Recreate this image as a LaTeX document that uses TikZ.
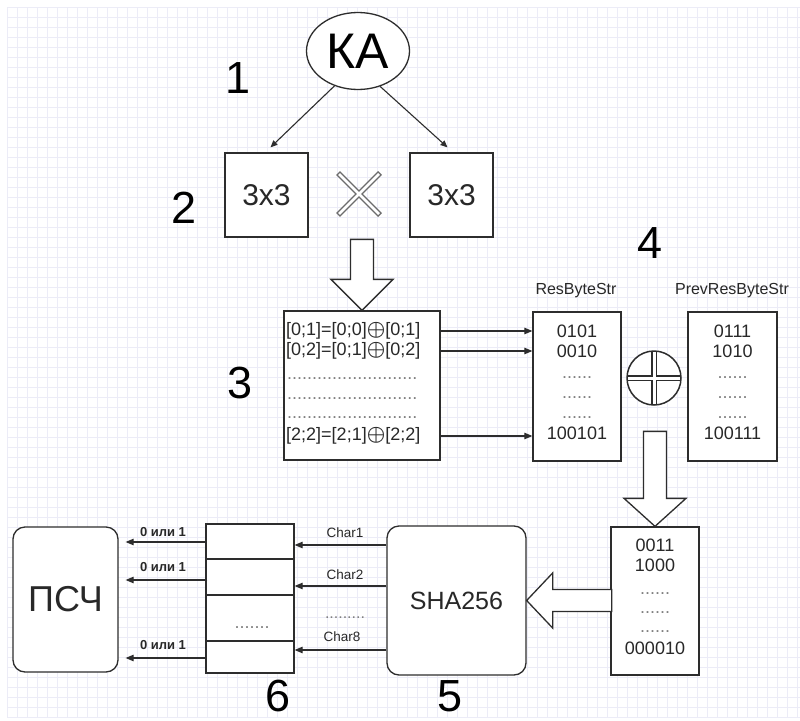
\documentclass[tikz,border=0pt]{standalone}
\usepackage{fontspec}
\setmainfont{Liberation Sans}
\usepackage{amsmath}
\usetikzlibrary{arrows.meta,shapes.geometric,calc}
\definecolor{gridc}{RGB}{236,236,247}
\definecolor{ink}{RGB}{45,45,45}
\definecolor{txt}{RGB}{40,40,40}
\newcommand\fsz[1]{\fontsize{#1}{#1}\selectfont}
\newcommand\bigxor{{\fsz{20}$\boldsymbol{\oplus}$}}
\begin{document}
\begin{tikzpicture}[x=1pt,y=-1pt,
  box/.style={draw=ink, line width=1.3pt, fill=white, inner sep=0pt, text=txt},
  rbox/.style={box, rounded corners=12pt},
  arr/.style={draw=ink, line width=1.1pt, -{Triangle[length=8pt,width=6.5pt]}},
  sarr/.style={draw=ink, line width=1.1pt, -{Triangle[length=7pt,width=6pt]}},
  barrow/.style={draw=ink, line width=1.3pt, fill=white, line join=miter},
  num/.style={font=\fsz{45}, text=black, inner sep=0pt},
  dig/.style={font=\fsz{18}, text=txt},
  dotsn/.style={anchor=base, font=\fsz{18}, text=gray},
  small/.style={font=\fsz{13.5}, text=txt},
]
\useasboundingbox (0,0) rectangle (800,720);
\fill[white] (0,0) rectangle (800,720);
\foreach \gx in {7,17,...,797} \draw[gridc, line width=0.8pt] (\gx,7) -- (\gx,717);
\foreach \gy in {7,17,...,717} \draw[gridc, line width=0.8pt] (7,\gy) -- (800,\gy);

% --- 1: KA
\node[ellipse, draw=ink, line width=1.3pt, fill=white, minimum width=103pt, minimum height=77pt, inner sep=0pt] (ka) at (358,51) {\fsz{50}КА};
\node[num] (n1) at (238,78) {1};

% --- 2: matrices
\node[box, minimum width=83pt, minimum height=84pt, font=\fsz{30}] (m1) at (266.5,195) {3x3};
\node[box, minimum width=83pt, minimum height=84pt, font=\fsz{30}] (m2) at (451.5,195) {3x3};
\node[num] (n2) at (184,208) {2};
\coordinate (m1in) at ($(m1.north)+(4,-5)$);
\coordinate (m2in) at ($(m2.north)+(-4,-5)$);
\draw[sarr] (ka.236) -- (m1in);
\draw[sarr] (ka.302) -- (m2in);
% cross
\coordinate (xc) at (359,194);
\draw[gray!85!black, line width=5.5pt] ($(xc)+(-21,-21)$) -- ($(xc)+(21,21)$) ($(xc)+(-21,21)$) -- ($(xc)+(21,-21)$);
\draw[white, line width=2.8pt] ($(xc)+(-20,-20)$) -- ($(xc)+(20,20)$) ($(xc)+(-20,20)$) -- ($(xc)+(20,-20)$);

% --- 3: xor table
\node[box, minimum width=156pt, minimum height=149pt] (b3) at (362,385.5) {};
\draw[barrow] (b3.north) -- ++(-31,-31) -- ++(19.5,0) -- ++(0,-40) -- ++(23,0) -- ++(0,40) -- ++(19.5,0) -- cycle;
\node[dig, anchor=west, inner sep=0pt] (l1) at (286,331) {[0;1]=[0;0]\bigxor[0;1]};
\node[dig, anchor=west, inner sep=0pt] (l2) at (286,351) {[0;2]=[0;1]\bigxor[0;2]};
\node[dotsn, anchor=base west, inner sep=0pt] (d31) at (287,379) {..........................};
\node[dotsn, anchor=base west, inner sep=0pt] (d32) at (287,399) {..........................};
\node[dotsn, anchor=base west, inner sep=0pt] (d33) at (287,418) {..........................};
\node[dig, anchor=west, inner sep=0pt] (l3) at (286,436) {[2;2]=[2;1]\bigxor[2;2]};
\node[num] (n3) at (240,383) {3};

% --- 4: byte strings
\node[box, minimum width=88pt, minimum height=149pt] (res) at (577,386.5) {};
\node[box, minimum width=89pt, minimum height=149pt] (prev) at (732.5,386.5) {};
\node[font=\fsz{16}, text=txt] (reslab) at (576,291) {ResByteStr};
\node[font=\fsz{16}, text=txt] (prevlab) at (732,291) {PrevResByteStr};
\node[dig] (r1) at (577,331) {0101};
\node[dig] (r2) at (577,351) {0010};
\node[dotsn] (rd1) at (577,378) {......};
\node[dotsn] (rd2) at (577,398) {......};
\node[dotsn] (rd3) at (577,418) {......};
\node[dig] (r3) at (577,433) {100101};
\node[dig] (p1) at (732.5,331) {0111};
\node[dig] (p2) at (732.5,351) {1010};
\node[dotsn] (pd1) at (732.5,378) {......};
\node[dotsn] (pd2) at (732.5,398) {......};
\node[dotsn] (pd3) at (732.5,418) {......};
\node[dig] (p3) at (732.5,433) {100111};
\draw[arr] (b3.east |- l1) -- (res.west |- l1);
\draw[arr] (b3.east |- r2) -- (res.west |- r2);
\draw[arr] (b3.east |- l3) -- (res.west |- l3);
\node[num] (n4) at (650,243) {4};
% xor circle
\node[circle, minimum size=54pt, inner sep=0pt, fill=white] (xor) at (654,378) {};
\begin{scope}
\clip (xor.center) circle (27);
\draw[ink, line width=6pt] (xor.north) -- (xor.south) (xor.west) -- (xor.east);
\draw[white, line width=3pt] (xor.north) -- (xor.south) (xor.west) -- (xor.east);
\end{scope}
\draw[ink, line width=1.5pt] (xor.center) circle (27);

% --- result box
\node[box, minimum width=88pt, minimum height=148pt] (fin) at (655,601) {};
\draw[barrow] (fin.north) -- ++(-31,-28) -- ++(19.5,0) -- ++(0,-67) -- ++(23,0) -- ++(0,67) -- ++(19.5,0) -- cycle;
\node[dig] (f1) at (655,545) {0011};
\node[dig] (f2) at (655,565) {1000};
\node[dotsn] (fd1) at (655,594) {......};
\node[dotsn] (fd2) at (655,613) {......};
\node[dotsn] (fd3) at (655,632) {......};
\node[dig] (f3) at (655,648) {000010};

% --- 5: SHA256
\node[rbox, minimum width=139pt, minimum height=149pt, font=\fsz{25}] (sha) at (456.5,600.5) {SHA256};
\draw[barrow] (sha.east) -- ++(26,-27.5) -- ++(0,16.5) -- ++(59,0) -- ++(0,22) -- ++(-59,0) -- ++(0,16.5) -- cycle;
\node[num] (n5) at (450,696) {5};

% --- 6: bit register
\node[box, minimum width=88pt, minimum height=149pt] (b6) at (250,598.5) {};
\coordinate (h1) at (0,559);
\coordinate (h2) at (0,595);
\coordinate (h3) at (0,641);
\draw[ink, line width=2pt] (b6.west |- h1) -- (b6.east |- h1);
\draw[ink, line width=2pt] (b6.west |- h2) -- (b6.east |- h2);
\draw[ink, line width=2pt] (b6.west |- h3) -- (b6.east |- h3);
\node[dotsn] (b6d) at (252,628) {.......};
\node[num] (n6) at (278,696) {6};

\coordinate (c1) at (0,545);
\coordinate (c2) at (0,586);
\coordinate (c3) at (0,650);
\draw[arr] (sha.west |- c1) -- (b6.east |- c1);
\draw[arr] (sha.west |- c2) -- (b6.east |- c2);
\draw[arr] (sha.west |- c3) -- (b6.east |- c3);
\node[small] (ch1) at (345,533) {Char1};
\node[small] (ch2) at (345,575) {Char2};
\node[dotsn, font=\fsz{16}] (chd) at (345,618) {.........};
\node[small] (ch8) at (342,637) {Char8};

% --- PSCh
\node[rbox, minimum width=105pt, minimum height=145pt, font=\fsz{36}] (psc) at (65.5,599.5) {ПСЧ};
\coordinate (o1) at (0,542);
\coordinate (o2) at (0,580);
\coordinate (o3) at (0,658);
\draw[arr] (b6.west |- o1) -- ($(psc.east |- o1)+(7,0)$);
\draw[arr] ($(b6.west |- o2)+(2,0)$) -- ($(psc.east |- o2)+(7,0)$);
\draw[arr] (b6.west |- o3) -- ($(psc.east |- o3)+(7,0)$);
\node[small, font=\fsz{13}\bfseries] (z1) at (163,532) {0 или 1};
\node[small, font=\fsz{13}\bfseries] (z2) at (163,567) {0 или 1};
\node[small, font=\fsz{13}\bfseries] (z3) at (163,645) {0 или 1};
\end{tikzpicture}
\end{document}
